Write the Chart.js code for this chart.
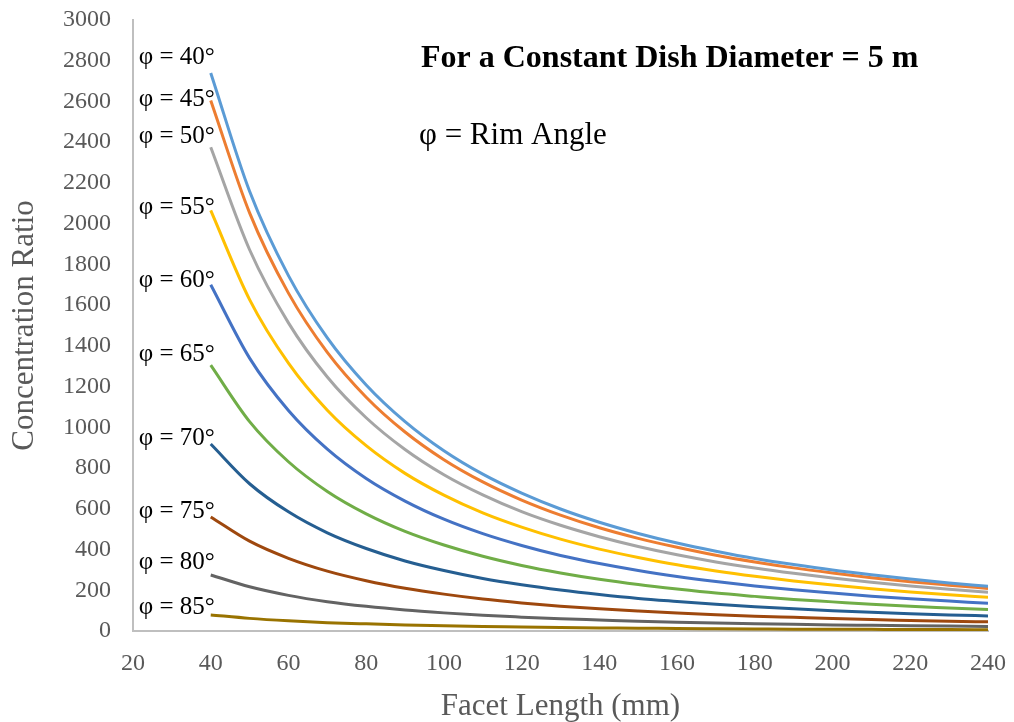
<!DOCTYPE html>
<html>
<head>
<meta charset="utf-8">
<script src="https://cdn.jsdelivr.net/npm/chart.js@4"></script>
<style>
  html, body { margin: 0; padding: 0; background: #fff; }
  #wrap { width: 1014px; height: 722px; }
</style>
</head>
<body>
<div id="wrap"><canvas id="myChart" width="1014" height="722"></canvas></div>
<script>
// facet length (mm)
const facetLength = [40, 50, 60, 70, 80, 90, 100, 110, 120, 130, 140, 150, 160, 170, 180, 190, 200, 210, 220, 230, 240];

// concentration ratio for each rim angle
const phi40 = [2740, 2159, 1745, 1439, 1208, 1028, 885, 770, 677, 599, 534, 479, 432, 392, 356, 326, 299, 276, 255, 236, 220];
const phi45 = [2605, 2053, 1659, 1368, 1148, 977, 841, 732, 643, 569, 507, 455, 411, 372, 339, 310, 285, 262, 242, 225, 209];
const phi50 = [2375, 1872, 1513, 1247, 1047, 891, 767, 668, 586, 519, 463, 415, 374, 339, 309, 283, 260, 239, 221, 205, 190];
const phi55 = [2065, 1627, 1315, 1084, 910, 774, 667, 580, 510, 451, 402, 361, 325, 295, 269, 246, 226, 208, 192, 178, 166];
const phi60 = [1700, 1340, 1083, 893, 749, 638, 549, 478, 420, 371, 331, 297, 268, 243, 221, 202, 186, 171, 158, 147, 136];
const phi65 = [1305, 1028, 831, 685, 575, 489, 422, 367, 322, 285, 254, 228, 206, 186, 170, 155, 143, 131, 121, 113, 105];
const phi70 = [918, 723, 585, 482, 405, 344, 297, 258, 227, 201, 179, 160, 145, 131, 119, 109, 100, 92, 85, 79, 74];
const phi75 = [560, 441, 357, 294, 247, 210, 181, 157, 138, 122, 109, 98, 88, 80, 73, 67, 61, 56, 52, 48, 45];
const phi80 = [275, 217, 175, 144, 121, 103, 89, 77, 68, 60, 54, 48, 43, 39, 36, 33, 30, 28, 26, 24, 22];
const phi85 = [79, 62, 50, 41, 35, 30, 26, 22, 20, 17, 15, 14, 12, 11, 10, 9, 9, 8, 7, 7, 6];

const seriesLabels = ['φ = 40°', 'φ = 45°', 'φ = 50°', 'φ = 55°', 'φ = 60°', 'φ = 65°', 'φ = 70°', 'φ = 75°', 'φ = 80°', 'φ = 85°'];
const seriesData = [phi40, phi45, phi50, phi55, phi60, phi65, phi70, phi75, phi80, phi85];
const seriesColors = ['#5B9BD5', '#ED7D31', '#A5A5A5', '#FFC000', '#4472C4', '#70AD47', '#255E91', '#9E480E', '#636363', '#997300'];
// where the curve labels sit on the y axis
const labelY = [2815, 2610, 2430, 2080, 1720, 1360, 945, 585, 335, 115];

const xTicks = [20, 40, 60, 80, 100, 120, 140, 160, 180, 200, 220, 240];

const serif = "'Liberation Serif', 'Times New Roman', serif";

// curve labels + the two text notes
const notes = {
    id: 'notes',
    afterDatasetsDraw(chart) {
        const c = chart.ctx;
        const xs = chart.scales.x, ys = chart.scales.y;
        c.save();
        c.fillStyle = '#000';
        c.font = '25px ' + serif;
        c.textAlign = 'right';
        c.textBaseline = 'middle';
        seriesLabels.forEach((lab, i) => {
            c.fillText(lab, xs.getPixelForValue(40) + 4, ys.getPixelForValue(labelY[i]));
        });
        c.textAlign = 'left';
        c.font = 'bold 32px ' + serif;
        c.fillText('For a Constant Dish Diameter = 5 m', 421, 59);
        c.font = '31px ' + serif;
        c.fillText('φ = Rim Angle', 419, 136);
        c.restore();
    }
};

const ctx = document.getElementById('myChart');
new Chart(ctx, {
    type: 'line',
    data: {
        datasets: seriesData.map((d, i) => ({
            label: seriesLabels[i],
            data: d.map((v, j) => ({ x: facetLength[j], y: v })),
            borderColor: seriesColors[i],
            backgroundColor: seriesColors[i],
            borderWidth: 3,
            pointRadius: 0,
            cubicInterpolationMode: 'monotone',
            fill: false
        }))
    },
    options: {
        responsive: false,
        animation: false,
        layout: { padding: { top: 20, right: 26, left: 0, bottom: 0 } },
        plugins: { legend: { display: false }, tooltip: { enabled: false } },
        scales: {
            x: {
                type: 'linear',
                min: 20,
                max: 240,
                afterBuildTicks: s => { s.ticks = xTicks.map(v => ({ value: v })); },
                afterFit: s => { s.height = 91; s.paddingLeft = 0; s.paddingRight = 0; },
                grid: { display: false, drawTicks: false },
                border: { color: '#BFBFBF', width: 2 },
                ticks: { color: '#595959', font: { family: serif, size: 24 }, padding: 18, callback: v => v },
                title: { display: true, text: 'Facet Length (mm)', color: '#595959', font: { family: serif, size: 31 }, padding: { top: 0, bottom: -3 } }
            },
            y: {
                min: 0,
                max: 3000,
                ticks: { stepSize: 200, color: '#595959', font: { family: serif, size: 24 }, padding: 22, callback: v => v },
                afterFit: s => { s.width = 133; s.paddingTop = 0; s.paddingBottom = 0; },
                grid: { display: false, drawTicks: false },
                border: { color: '#BFBFBF', width: 2 },
                title: { display: true, text: 'Concentration Ratio', color: '#595959', font: { family: serif, size: 31 }, padding: { top: 6, bottom: 0 } }
            }
        }
    },
    plugins: [notes]
});
</script>
</body>
</html>
